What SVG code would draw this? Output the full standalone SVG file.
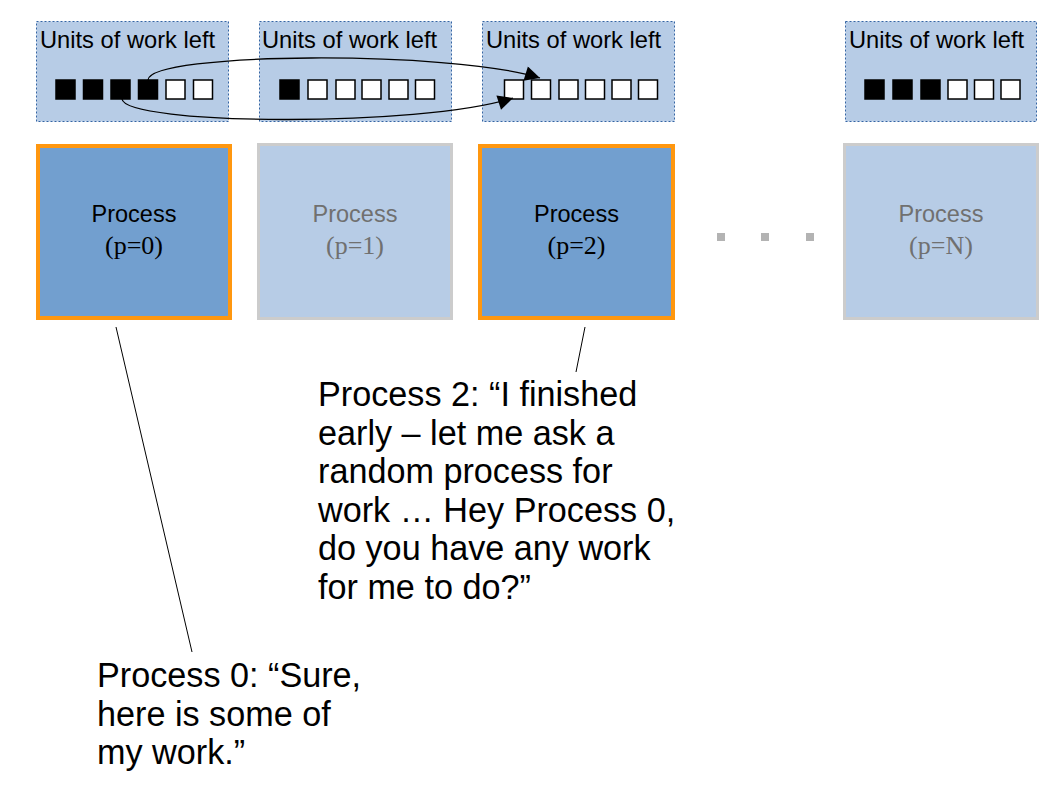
<svg xmlns="http://www.w3.org/2000/svg" width="1058" height="794" viewBox="0 0 1058 794">
<style>
.ubox{fill:#b7cce6;stroke:#3465a4;stroke-width:1;stroke-dasharray:2,2}
.ulbl{font-family:"Liberation Sans",Arial,sans-serif;font-size:23.7px;fill:#000}
.sqb{fill:#000;stroke:#000;stroke-width:1.5}
.sqw{fill:#fff;stroke:#000;stroke-width:1.5}
.pact{fill:#729fcf;stroke:#ff970f;stroke-width:4}
.pidle{fill:#b7cce6;stroke:#cccccc;stroke-width:3}
.pt{font-family:"Liberation Sans",Arial,sans-serif;font-size:23.5px;text-anchor:middle}
.ps{font-family:"Liberation Serif","Times New Roman",serif;font-size:26px;text-anchor:middle}
.dark{fill:#000}
.grey{fill:#707070}
.dot{fill:#b3b3b3}
.callout{font-family:"Liberation Sans",Arial,sans-serif;font-size:34.2px;fill:#000}
.conn{fill:none;stroke:#000;stroke-width:1.3}
.lead{stroke:#000;stroke-width:1}
</style>
<defs>
<marker id="ah" viewBox="0 0 10 10" refX="10" refY="5" markerWidth="16" markerHeight="15" markerUnits="userSpaceOnUse" orient="auto">
<path d="M0,0 L10,5 L0,10 z" fill="#000"/>
</marker>
</defs>
<rect width="1058" height="794" fill="#fff"/>

<g id="units0">
<rect class="ubox" x="36.5" y="21.5" width="192" height="100"/>
<text class="ulbl" x="40" y="48">Units of work left</text>
<rect class="sqb" x="56" y="80" width="19" height="19"/>
<rect class="sqb" x="83.5" y="80" width="19" height="19"/>
<rect class="sqb" x="111" y="80" width="19" height="19"/>
<rect class="sqb" x="138.5" y="80" width="19" height="19"/>
<rect class="sqw" x="166" y="80" width="19" height="19"/>
<rect class="sqw" x="193.5" y="80" width="19" height="19"/>
</g>

<g id="units1">
<rect class="ubox" x="259.5" y="21.5" width="192" height="100"/>
<text class="ulbl" x="262" y="48">Units of work left</text>
<rect class="sqb" x="280" y="80" width="19" height="19"/>
<rect class="sqw" x="308" y="80" width="19" height="19"/>
<rect class="sqw" x="336" y="80" width="19" height="19"/>
<rect class="sqw" x="362" y="80" width="19" height="19"/>
<rect class="sqw" x="389" y="80" width="19" height="19"/>
<rect class="sqw" x="415.5" y="80" width="19" height="19"/>
</g>

<g id="units2">
<rect class="ubox" x="482.5" y="21.5" width="192" height="100"/>
<text class="ulbl" x="486" y="48">Units of work left</text>
<rect class="sqw" x="504.5" y="80" width="19" height="19"/>
<rect class="sqw" x="531.5" y="80" width="19" height="19"/>
<rect class="sqw" x="559" y="80" width="19" height="19"/>
<rect class="sqw" x="585.5" y="80" width="19" height="19"/>
<rect class="sqw" x="612" y="80" width="19" height="19"/>
<rect class="sqw" x="638.5" y="80" width="19" height="19"/>
</g>

<g id="unitsN">
<rect class="ubox" x="845.5" y="21.5" width="191" height="100"/>
<text class="ulbl" x="849" y="48">Units of work left</text>
<rect class="sqb" x="865" y="80" width="19" height="19"/>
<rect class="sqb" x="893" y="80" width="19" height="19"/>
<rect class="sqb" x="921" y="80" width="19" height="19"/>
<rect class="sqw" x="948" y="80" width="19" height="19"/>
<rect class="sqw" x="974.5" y="80" width="19" height="19"/>
<rect class="sqw" x="1001" y="80" width="19" height="19"/>
</g>

<g id="proc0">
<rect class="pact" x="38" y="146" width="192" height="172"/>
<text class="pt dark" x="134" y="222">Process</text>
<text class="ps dark" x="134" y="254">(p=0)</text>
</g>

<g id="proc1">
<rect class="pidle" x="258.5" y="144.5" width="193" height="174"/>
<text class="pt grey" x="355" y="222">Process</text>
<text class="ps grey" x="355" y="254">(p=1)</text>
</g>

<g id="proc2">
<rect class="pact" x="480" y="146" width="193" height="172"/>
<text class="pt dark" x="576.5" y="222">Process</text>
<text class="ps dark" x="576.5" y="254">(p=2)</text>
</g>

<g id="ellipsis">
<rect class="dot" x="717" y="233" width="8" height="8"/>
<rect class="dot" x="761" y="233" width="8" height="8"/>
<rect class="dot" x="806" y="233" width="8" height="8"/>
</g>

<g id="procN">
<rect class="pidle" x="844.5" y="144.5" width="193" height="174"/>
<text class="pt grey" x="941" y="222">Process</text>
<text class="ps grey" x="941" y="254">(p=N)</text>
</g>

<g id="connectors">
<path class="conn" d="M148,80 C150,52 450,50 540,78" marker-end="url(#ah)"/>
<path class="conn" d="M122,99 C125,125 420,128 513,98" marker-end="url(#ah)"/>
<line class="lead" x1="116" y1="327" x2="192" y2="652"/>
<line class="lead" x1="585" y1="327" x2="576" y2="372"/>
</g>

<g id="note2">
<text class="callout" x="318" y="406">Process 2: “I finished</text>
<text class="callout" x="318" y="444.6">early – let me ask a</text>
<text class="callout" x="318" y="483.2">random process for</text>
<text class="callout" x="318" y="521.8">work … Hey Process 0,</text>
<text class="callout" x="318" y="560.4">do you have any work</text>
<text class="callout" x="318" y="599">for me to do?”</text>
</g>

<g id="note0">
<text class="callout" x="97" y="687">Process 0: “Sure,</text>
<text class="callout" x="97" y="725.6">here is some of</text>
<text class="callout" x="97" y="764.2">my work.”</text>
</g>
</svg>
